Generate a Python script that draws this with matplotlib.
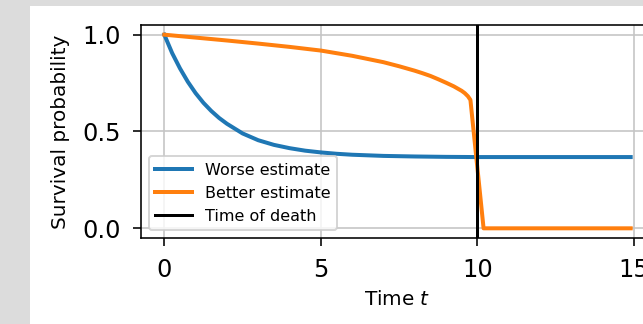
import matplotlib
matplotlib.use('Agg')
import matplotlib.pyplot as plt
from matplotlib.patches import Rectangle

# Data
t_worse = [0, 0.25, 0.5, 0.75, 1.0, 1.25, 1.5, 1.75, 2.0, 2.5, 3.0, 3.5, 4.0,
           4.5, 5.0, 5.5, 6.0, 7.0, 8.0, 9.0, 10.0, 12.0, 14.9]
s_worse = [1.0, 0.905, 0.826, 0.757, 0.698, 0.648, 0.606, 0.570, 0.540, 0.490,
           0.455, 0.431, 0.414, 0.401, 0.392, 0.385, 0.380, 0.374, 0.371, 0.369,
           0.368, 0.368, 0.368]

t_better = [0, 1, 2, 3, 4, 5, 6, 7, 7.5, 8.0, 8.25, 8.5, 8.75, 9.0, 9.25, 9.5,
            9.6, 9.7, 9.78, 10.2, 12.0, 14.9]
s_better = [1.0, 0.985, 0.970, 0.954, 0.937, 0.918, 0.891, 0.858, 0.837, 0.814,
            0.801, 0.787, 0.770, 0.752, 0.733, 0.710, 0.698, 0.682, 0.663, 0.0,
            0.0, 0.0]

time_of_death = 10
x_ticks = [0, 5, 10, 15]
y_ticks = [0.0, 0.5, 1.0]

W, H, DPI = 643, 324, 144
fig = plt.figure(figsize=(W / DPI, H / DPI), dpi=DPI, facecolor='#dcdcdc')
fig.patches.append(Rectangle((30 / W, 0), 1, 1 - 5.7 / H, transform=fig.transFigure,
                             facecolor='white', edgecolor='none', zorder=-10))

ax = fig.add_axes([141 / W, 86 / H, 513 / W, 213 / H])
ax.set_zorder(1)
ax.plot(t_worse, s_worse, color='#1f77b4', lw=2, label='Worse estimate')
ax.plot(t_better, s_better, color='#ff7f0e', lw=2, label='Better estimate')
ax.axvline(time_of_death, color='black', lw=1.5, label='Time of death')

ax.set_xticks(x_ticks)
ax.set_yticks(y_ticks)
ax.tick_params(labelsize=12, length=4, pad=6)
ax.grid(True, color='#c4c4c4')
ax.set_xlabel('Time $t$', fontsize=10, labelpad=4)
ax.set_ylabel('Survival probability', fontsize=10, labelpad=6)
ax.legend(loc='lower left', fontsize=8, handlelength=2.3)

fig.savefig('out.png', dpi=DPI, facecolor=fig.get_facecolor())
